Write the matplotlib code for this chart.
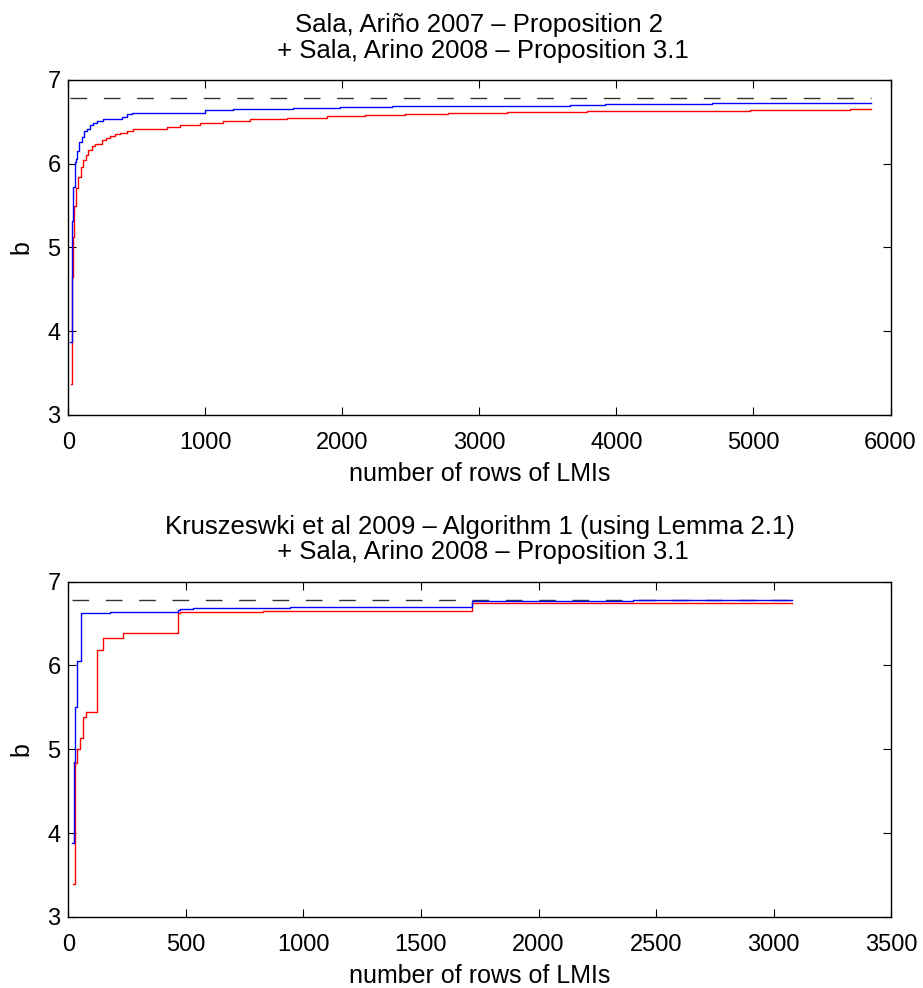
import matplotlib
matplotlib.use("Agg")
import matplotlib.pyplot as plt

plt.rcParams["font.family"] = ["Liberation Sans", "DejaVu Sans"]

# ── Data ──────────────────────────────────────────────────────────────────────
B_REF = 6.78

# top panel (Sala, Arino 2007 Prop. 2)
top_blue_x = [12, 24, 29, 36, 46, 58, 66, 75, 97, 114, 134, 158, 182, 212, 251,
              389, 426, 462, 766, 998, 1204, 1642, 1985, 2362, 3662, 3914, 4697, 5857]
top_blue_y = [3.87, 4.65, 5.32, 5.72, 6.02, 6.05, 6.15, 6.26, 6.32, 6.39, 6.42, 6.46, 6.49, 6.51, 6.53,
              6.56, 6.59, 6.60, 6.61, 6.64, 6.65, 6.66, 6.675, 6.69, 6.70, 6.712, 6.72, 6.72]
top_red_x = [19, 29, 36, 44, 56, 73, 90, 109, 129, 146, 170, 195, 243, 275, 304, 341, 377,
             426, 474, 547, 718, 815, 961, 1131, 1326, 1594, 1886, 2167, 2460, 2768, 3201,
             3788, 4166, 4977, 5704, 5857]
top_red_y = [3.37, 4.65, 5.13, 5.50, 5.71, 5.84, 5.96, 6.04, 6.10, 6.16, 6.21, 6.24, 6.28, 6.31, 6.33, 6.35, 6.37,
             6.39, 6.41, 6.42, 6.44, 6.46, 6.49, 6.51, 6.53, 6.55, 6.565, 6.58, 6.593, 6.605, 6.613,
             6.625, 6.633, 6.64, 6.649, 6.649]

# bottom panel (Kruszewski et al 2009 Alg. 1)
bot_blue_x = [17, 24, 28, 38, 54, 71, 177, 467, 475, 531, 942, 1718, 2400, 3080]
bot_blue_y = [3.88, 4.85, 5.51, 6.05, 6.62, 6.63, 6.64, 6.66, 6.67, 6.68, 6.70, 6.77, 6.78, 6.78]
bot_red_x = [18, 30, 38, 50, 61, 75, 120, 149, 231, 467, 475, 829, 1718, 2200, 3080]
bot_red_y = [3.39, 4.84, 5.00, 5.13, 5.39, 5.45, 6.19, 6.33, 6.39, 6.62, 6.635, 6.646, 6.74, 6.745, 6.745]

TITLES = [
    "Sala, Ariño 2007 – Proposition 2\n + Sala, Arino 2008 – Proposition 3.1",
    "Kruszeswki et al 2009 – Algorithm 1 (using Lemma 2.1)\n + Sala, Arino 2008 – Proposition 3.1",
]
XMAX = [6000, 3500]
XSTEP = [1000, 500]

# ── Figure ────────────────────────────────────────────────────────────────────
fig = plt.figure(figsize=(9.23, 9.88), dpi=100)
ax_top = fig.add_axes([0.0740, 0.5800, 0.8908, 0.3391])
ax_bot = fig.add_axes([0.0740, 0.0719, 0.8915, 0.3394])

panels = [
    (ax_top, top_blue_x, top_blue_y, top_red_x, top_red_y),
    (ax_bot, bot_blue_x, bot_blue_y, bot_red_x, bot_red_y),
]

for k, (ax, bx, by, rx, ry) in enumerate(panels):
    x0 = min(bx[0], rx[0])
    x1 = max(bx[-1], rx[-1])
    ax.plot([x0, x1], [B_REF, B_REF], color="#333333", lw=1.0,
            dashes=(12, 12))
    ax.plot(rx, ry, color="#ff0000", lw=1.0, drawstyle="steps-post")
    ax.plot(bx, by, color="#0000ff", lw=1.0, drawstyle="steps-post")

    ax.set_xlim(0, XMAX[k])
    ax.set_ylim(3, 7)
    ax.set_xticks(range(0, XMAX[k] + 1, XSTEP[k]))
    ax.set_yticks([3, 4, 5, 6, 7])
    ax.tick_params(direction="in", top=True, right=True, length=6, width=0.8,
                   labelsize=17)
    ax.tick_params(axis="x", pad=12)
    ax.tick_params(axis="y", pad=5.5)
    for s in ax.spines.values():
        s.set_linewidth(1.0)
    ax.set_xlabel("number of rows of LMIs", fontsize=18, labelpad=6)
    ax.set_ylabel("b", fontsize=18, labelpad=10)
    ax.set_title(TITLES[k], fontsize=18.5, pad=16, linespacing=1.1)

plt.savefig("out.png", dpi=100)
